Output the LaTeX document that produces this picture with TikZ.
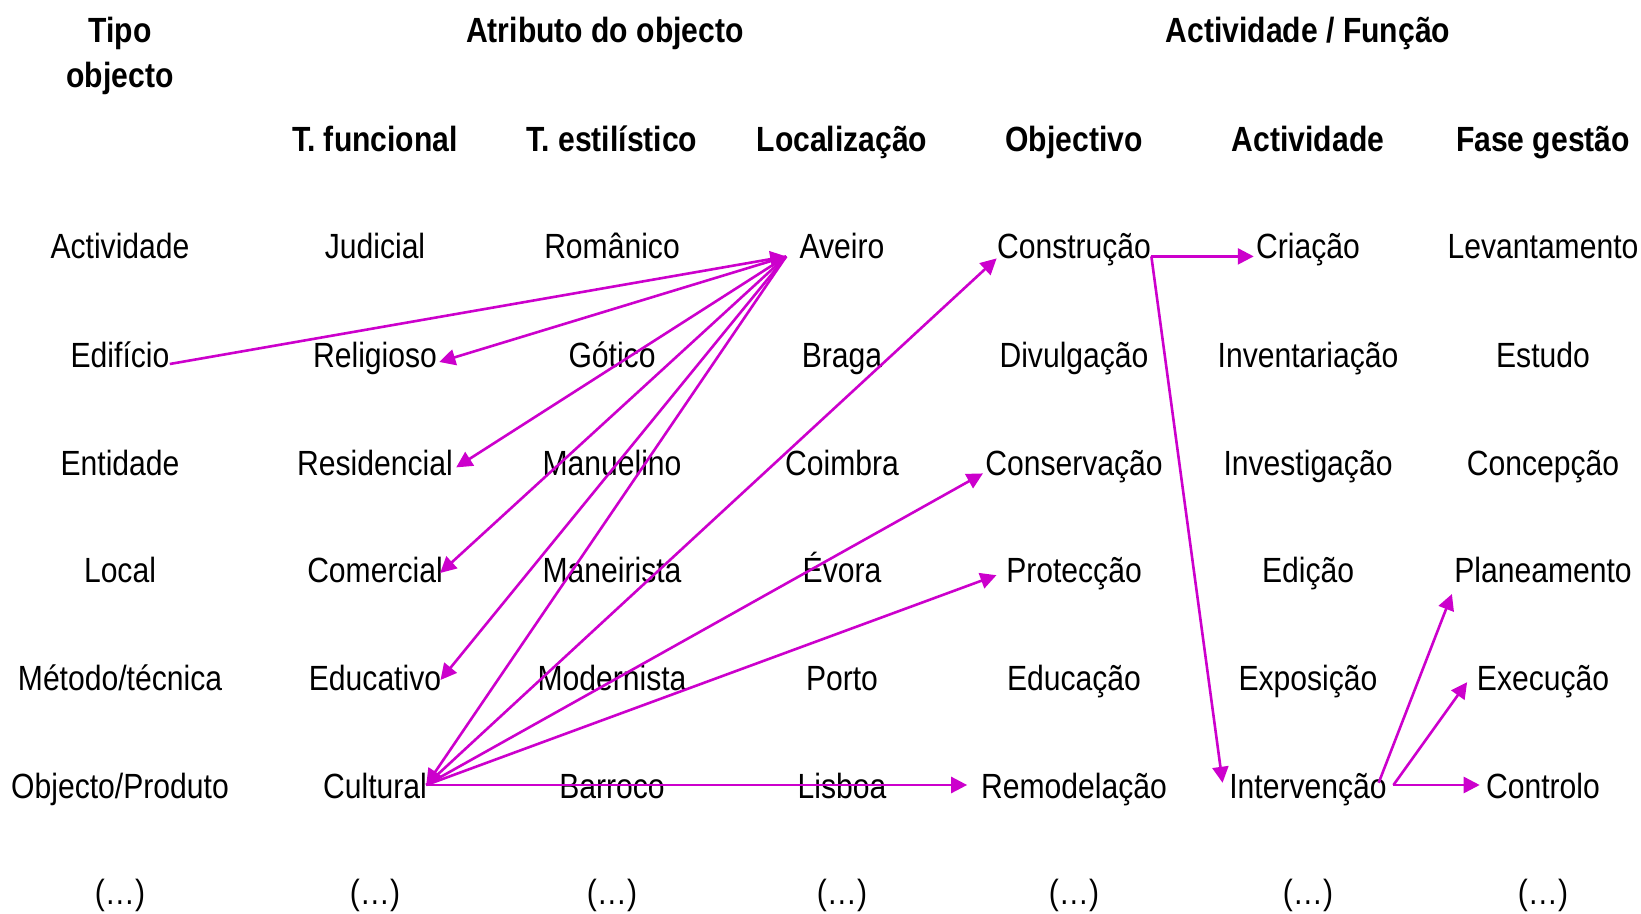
\documentclass[tikz,border=0pt]{standalone}
\usepackage{fontspec}
\setmainfont{Liberation Sans}[FakeStretch=0.86]
\usetikzlibrary{arrows.meta}
\definecolor{colm}{RGB}{204,0,204}

\begin{document}
\begin{tikzpicture}[x=0.5pt, y=-0.5pt,
    every node/.style={font=\fontsize{17.5}{21}\selectfont, inner sep=0pt, anchor=base},
    head/.style={font=\fontsize{17.5}{21}\selectfont\bfseries},
    lnk/.style={colm, line width=1.3pt, -{Triangle[length=8pt,width=8pt]}}]
    \useasboundingbox (0,0) rectangle (1641,914);

    % headers
    \node[head] (tipo) at (120,43) {Tipo};
    \node[head] (tipob) at (120,88) {objecto};
    \node[head] (atributo) at (605,43) {Atributo do objecto};
    \node[head] (actfuncao) at (1308,43) {Actividade / Função};
    \node[head] (tfuncional) at (375,152) {T. funcional};
    \node[head] (testilo) at (612,152) {T. estilístico};
    \node[head] (localizacao) at (842,152) {Localização};
    \node[head] (objectivo) at (1074,152) {Objectivo};
    \node[head] (actividade) at (1308,152) {Actividade};
    \node[head] (fase) at (1543,152) {Fase gestão};

    % tipo objecto
    \node (tactividade) at (120,259) {Actividade};
    \node (edificio) at (120,367) {Edifício};
    \node (entidade) at (120,475) {Entidade};
    \node (local) at (120,582) {Local};
    \node (metodo) at (120,690) {Método/técnica};
    \node (objproduto) at (120,798) {Objecto/Produto};

    % atributo do objecto
    \node (judicial) at (375,259) {Judicial};
    \node (religioso) at (375,367) {Religioso};
    \node (residencial) at (375,475) {Residencial};
    \node (comercial) at (375,582) {Comercial};
    \node (educativo) at (375,690) {Educativo};
    \node (cultural) at (375,798) {Cultural};
    \node (romanico) at (612,259) {Românico};
    \node (gotico) at (612,367) {Gótico};
    \node (manuelino) at (612,475) {Manuelino};
    \node (maneirista) at (612,582) {Maneirista};
    \node (modernista) at (612,690) {Modernista};
    \node (barroco) at (612,798) {Barroco};
    \node (aveiro) at (842,259) {Aveiro};
    \node (braga) at (842,367) {Braga};
    \node (coimbra) at (842,475) {Coimbra};
    \node (evora) at (842,582) {Évora};
    \node (porto) at (842,690) {Porto};
    \node (lisboa) at (842,798) {Lisboa};

    % actividade / funcao
    \node (construcao) at (1074,259) {Construção};
    \node (divulgacao) at (1074,367) {Divulgação};
    \node (conservacao) at (1074,475) {Conservação};
    \node (proteccao) at (1074,582) {Protecção};
    \node (educacao) at (1074,690) {Educação};
    \node (remodelacao) at (1074,798) {Remodelação};
    \node (criacao) at (1308,259) {Criação};
    \node (inventariacao) at (1308,367) {Inventariação};
    \node (investigacao) at (1308,475) {Investigação};
    \node (edicao) at (1308,582) {Edição};
    \node (exposicao) at (1308,690) {Exposição};
    \node (intervencao) at (1308,798) {Intervenção};
    \node (levantamento) at (1543,259) {Levantamento};
    \node (estudo) at (1543,367) {Estudo};
    \node (concepcao) at (1543,475) {Concepção};
    \node (planeamento) at (1543,582) {Planeamento};
    \node (execucao) at (1543,690) {Execução};
    \node (controlo) at (1543,798) {Controlo};

    \foreach \x/\n in {120/1,375/2,612/3,842/4,1074/5,1308/6,1543/7}
        \node (dots\n) at (\x,904) {(…)};

    % shared ends
    \coordinate (avp) at ([xshift=-6.5pt,yshift=1.3pt]aveiro.base west);
    \coordinate (cup) at ([xshift=-0.5pt,yshift=6.5pt]cultural.base east);
    \coordinate (cop) at ([yshift=1.3pt]construcao.base east);
    \coordinate (inpa) at ([xshift=-4.2pt,yshift=7.6pt]intervencao.base east);
    \coordinate (inpb) at ([xshift=3.2pt,yshift=6.5pt]intervencao.base east);

    \draw[lnk] ([yshift=1.5pt]edificio.base east) -- (avp);
    \draw[lnk] (avp) -- ([xshift=1pt,yshift=2.5pt]religioso.base east);
    \draw[lnk] (avp) -- ([xshift=1.5pt,yshift=3.8pt]residencial.base east);
    \draw[lnk] (avp) -- ([xshift=-1.5pt,yshift=4.5pt]comercial.base east);
    \draw[lnk] (avp) -- ([xshift=-0.5pt,yshift=5pt]educativo.base east);
    \draw[lnk] (avp) -- (cup);
    \draw[lnk] (cup) -- ([yshift=0.3pt]construcao.base west);
    \draw[lnk] (cup) -- ([xshift=-1pt,yshift=0.8pt]conservacao.base west);
    \draw[lnk] (cup) -- ([xshift=-4.7pt,yshift=3.4pt]proteccao.base west);
    \draw[lnk] (cup) -- ([xshift=-6.8pt,yshift=6.5pt]remodelacao.base west);
    \draw[lnk] (cop) -- ([xshift=-1pt,yshift=1.3pt]criacao.base west);
    \draw[lnk] (cop) -- ([xshift=-3.2pt,yshift=7.6pt]intervencao.base west);
    \draw[lnk] (inpa) -- ([xshift=-1pt,yshift=-6pt]planeamento.base west);
    \draw[lnk] (inpb) -- ([xshift=-4.7pt,yshift=3.9pt]execucao.base west);
    \draw[lnk] (inpb) -- ([xshift=-3pt,yshift=6.5pt]controlo.base west);
    % \draw[lnk] (cup) -- (lisboa);
\end{tikzpicture}
\end{document}
